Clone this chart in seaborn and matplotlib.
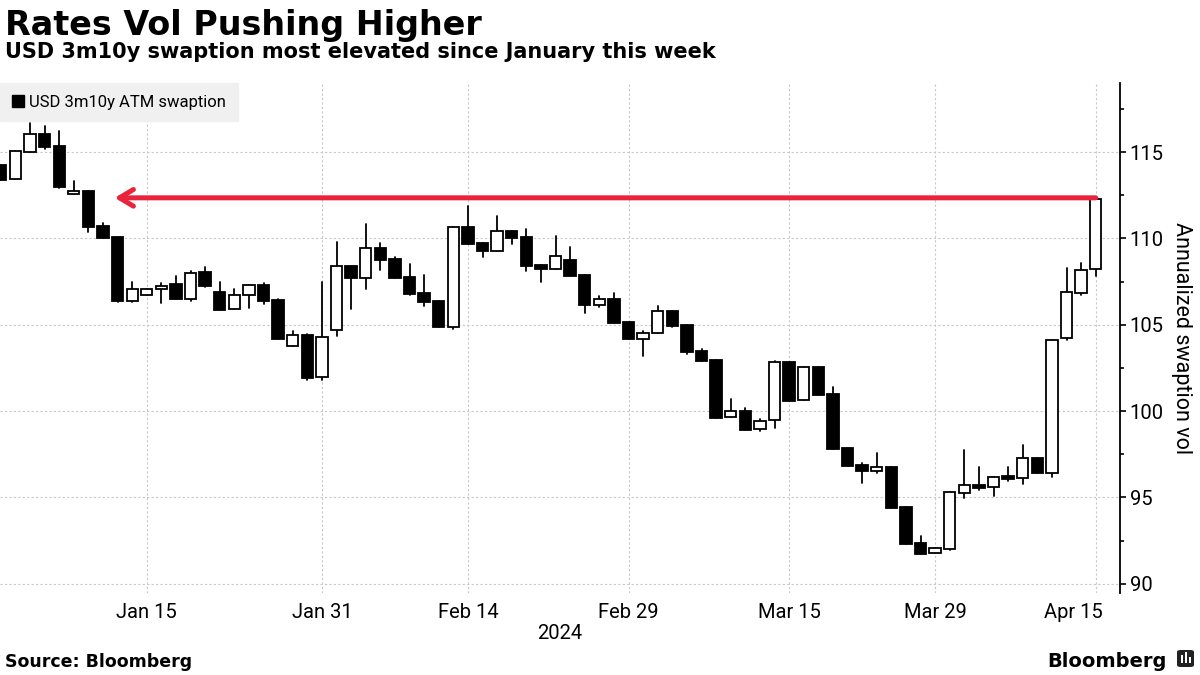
import numpy as np
import pandas as pd
import matplotlib
matplotlib.use("Agg")
import matplotlib.pyplot as plt
from matplotlib.patches import Patch, FancyBboxPatch, Rectangle
from matplotlib.ticker import MultipleLocator
from matplotlib.transforms import ScaledTranslation
import seaborn as sns

# daily OHLC of USD 3m10y ATM swaption vol, Jan 1 - Apr 15 2024 (weekdays)
dates = pd.bdate_range("2024-01-01", "2024-04-15")
opens = [114.24, 113.42, 114.98, 116.04, 115.34, 112.55, 112.74, 110.71, 110.08, 106.37,
         106.70, 107.05, 107.35, 106.47, 108.05, 106.89, 105.89, 106.70, 107.30, 106.43,
         103.78, 104.38, 101.95,
         104.67, 108.40, 107.72, 109.42, 108.80, 107.76, 106.83, 106.37, 104.88, 110.65,
         109.73, 109.28, 110.41, 110.08, 108.45, 108.24, 108.74, 107.87, 106.16, 106.47,
         105.15,
         104.19, 104.50, 105.79, 105.00, 103.47, 102.95, 99.63, 100.00, 98.94, 99.46,
         102.86, 100.62, 102.55, 100.98, 97.86, 96.87, 96.54, 96.76, 94.44, 92.36, 91.76,
         92.03, 95.27, 95.71, 95.58, 96.25, 96.10, 97.27, 96.43, 104.21, 106.85, 108.20]
closes = [113.38, 115.04, 116.02, 115.27, 112.99, 112.74, 110.67, 110.03, 106.37, 107.05,
          107.05, 107.26, 106.47, 108.01, 107.24, 105.87, 106.70, 107.28, 106.39, 104.19,
          104.38, 101.93, 104.27,
          108.38, 107.72, 109.42, 108.76, 107.72, 106.79, 106.33, 104.88, 110.64, 109.69,
          109.28, 110.41, 110.03, 108.41, 108.24, 108.96, 107.83, 106.15, 106.47, 105.11,
          104.19,
          104.50, 105.77, 104.94, 103.43, 102.91, 99.61, 99.98, 98.92, 99.42, 102.84,
          100.60, 102.55, 100.94, 97.82, 96.83, 96.54, 96.76, 94.40, 92.32, 91.74, 92.07,
          95.29, 95.70, 95.56, 96.16, 96.08, 97.27, 96.43, 104.09, 106.87, 108.16, 112.26]
highs = [114.24, 115.04, 116.66, 116.52, 116.23, 113.32, 112.74, 110.90, 110.08, 107.49,
         107.05, 107.39, 107.82, 108.12, 108.36, 107.47, 107.08, 107.28, 107.39, 106.49,
         104.63, 104.45, 107.45,
         109.77, 108.40, 110.81, 109.71, 108.93, 108.51, 107.87, 106.37, 110.64, 111.87,
         109.73, 111.29, 110.41, 110.52, 108.45, 110.12, 109.48, 107.87, 106.66, 106.82,
         105.15,
         104.63, 106.08, 105.79, 105.00, 103.57, 102.95, 100.69, 100.16, 99.52, 102.90,
         102.86, 102.55, 102.55, 101.37, 97.86, 97.01, 97.59, 96.76, 94.44, 92.76, 92.07,
         95.29, 97.74, 96.74, 96.16, 96.77, 98.03, 97.27, 104.09, 108.26, 108.55, 112.26]
lows = [113.38, 113.42, 114.98, 115.20, 112.90, 112.55, 110.38, 110.03, 106.30, 106.29,
        106.70, 106.24, 106.47, 106.40, 107.16, 105.87, 105.89, 105.98, 106.18, 104.19,
        103.78, 101.78, 101.78,
        104.36, 105.92, 107.08, 108.15, 107.72, 106.70, 106.10, 104.88, 104.77, 109.69,
        108.93, 109.28, 109.65, 108.12, 107.45, 108.24, 107.83, 105.66, 106.04, 105.11,
        104.19,
        103.20, 104.50, 104.88, 103.28, 102.91, 99.61, 99.63, 98.92, 98.86, 99.03,
        100.60, 100.62, 100.94, 97.82, 96.83, 95.81, 96.39, 94.40, 92.32, 91.74, 91.76,
        91.95, 94.98, 95.41, 95.10, 95.95, 95.77, 96.43, 96.20, 104.11, 106.72, 107.83]

tick_dates = ["2024-01-15", "2024-01-31", "2024-02-14", "2024-02-29",
              "2024-03-15", "2024-03-29", "2024-04-15"]
tick_labels = ["Jan 15", "Jan 31", "Feb 14", "Feb 29", "Mar 15", "Mar 29", "Apr 15"]
y_ticks = [90, 95, 100, 105, 110, 115]

# red arrow: today's level back to the last time it was this high
arrow_level = 112.35
arrow_from = "2024-04-15"
arrow_to = "2024-01-10"

df = pd.DataFrame({"date": dates, "open": opens, "high": highs,
                   "low": lows, "close": closes})
df["x"] = np.arange(len(df))
df["up"] = df["close"] >= df["open"]
pos = {d: i for i, d in enumerate(df["date"])}

sns.set_theme(style="white")
plt.rcParams["font.family"] = ["Roboto", "DejaVu Sans"]
plt.rcParams["text.color"] = "black"
plt.rcParams["axes.labelcolor"] = "black"

fig = plt.figure(figsize=(12, 6.75), dpi=100)
ax = fig.add_axes([0.0, 0.1215, 0.9333, 0.7555])

# wicks
wicks = pd.concat([df[["x", "low"]].rename(columns={"low": "y"}),
                   df[["x", "high"]].rename(columns={"high": "y"})])
sns.lineplot(data=wicks, x="x", y="y", units="x", estimator=None,
             color="black", lw=1.3, ax=ax, zorder=2)

# bodies
body_bottom = np.minimum(df["open"], df["close"])
body_h = np.maximum((df["close"] - df["open"]).abs(), 0.12)
ax.bar(df["x"], body_h, bottom=body_bottom, width=0.78,
       color=np.where(df["up"], "white", "black"),
       edgecolor="black", linewidth=1.3, zorder=3)

# arrow
ax.annotate("", xy=(pos[pd.Timestamp(arrow_to)] + 0.8, arrow_level),
            xytext=(pos[pd.Timestamp(arrow_from)], arrow_level),
            arrowprops=dict(arrowstyle="->,head_length=1.0,head_width=0.6",
                            color="#e8233b", lw=3.6, shrinkA=0, shrinkB=0,
                            mutation_scale=10),
            zorder=4)

ax.set_xlim(-0.055, 76.66)
ax.set_ylim(89.46, 119.0)

xt = [pos[pd.Timestamp(d)] for d in tick_dates]
ax.set_xticks(xt)
ax.set_xticklabels(tick_labels)
ax.set_yticks(y_ticks)
ax.yaxis.set_minor_locator(MultipleLocator(2.5))
ax.yaxis.tick_right()
ax.yaxis.set_label_position("right")
ax.tick_params(axis="x", length=0, labelsize=14.5, pad=7, colors="black")
ax.tick_params(axis="y", which="major", length=4, width=1.2, direction="out",
               labelsize=14.5, pad=3, colors="black", right=True, left=False)
ax.tick_params(axis="y", which="minor", length=3, width=1.2, direction="out",
               right=True, left=False, colors="black")

# last date label sits left of its gridline, clear of the axis
last = ax.get_xticklabels()[-1]
last.set_horizontalalignment("right")
last.set_transform(last.get_transform() + ScaledTranslation(7 / 100, 0, fig.dpi_scale_trans))

ax.grid(True, which="major", color="#c8c8c8", linestyle=(0, (2, 2)), lw=0.8)
for s in ["top", "left", "bottom"]:
    ax.spines[s].set_visible(False)
ax.spines["right"].set_color("black")
ax.spines["right"].set_linewidth(1.3)

ax.set_xlabel("2024", fontsize=14.5, labelpad=2, color="black")
ax.set_ylabel("Annualized swaption vol", fontsize=15.5, rotation=270,
              labelpad=20, color="black")

leg = ax.legend(handles=[Patch(facecolor="black", edgecolor="black",
                               label="USD 3m10y ATM swaption")],
                loc="upper left", bbox_to_anchor=(0, 1), borderaxespad=0,
                frameon=True, fancybox=False, facecolor="#f0f0f0",
                edgecolor="#f0f0f0", framealpha=1, fontsize=12,
                handlelength=0.75, handleheight=0.75, handletextpad=0.3,
                borderpad=0.7, labelcolor="black")
leg.set_zorder(10)

# titles and footer
fig.text(0.004, 1 - 35 / 675, "Rates Vol Pushing Higher", family="DejaVu Sans",
         weight="bold", fontsize=24, va="baseline", ha="left", color="black")
fig.text(0.004, 1 - 58.5 / 675,
         "USD 3m10y swaption most elevated since January this week",
         family="DejaVu Sans", weight="bold", fontsize=15, va="baseline", ha="left",
         color="black")
fig.text(0.004, 1 - 667 / 675, "Source: Bloomberg", family="DejaVu Sans",
         weight="bold", fontsize=12.5, va="baseline", ha="left", color="black")
fig.text(1167 / 1200, 1 - 667 / 675, "Bloomberg", family="DejaVu Sans",
         weight="bold", fontsize=14, va="baseline", ha="right", color="black")
fig.patches.append(FancyBboxPatch((1177 / 1200, 1 - 667 / 675), 17 / 1200, 17 / 675,
                                  boxstyle="round,pad=0,rounding_size=0.003",
                                  transform=fig.transFigure, facecolor="#222222",
                                  edgecolor="none"))
for k, h in enumerate([8, 11, 6]):
    fig.patches.append(Rectangle(((1180.5 + 4 * k) / 1200, 1 - 663 / 675),
                                 2 / 1200, h / 675, transform=fig.transFigure,
                                 facecolor="white", edgecolor="none"))

fig.savefig("out.png", dpi=100)
